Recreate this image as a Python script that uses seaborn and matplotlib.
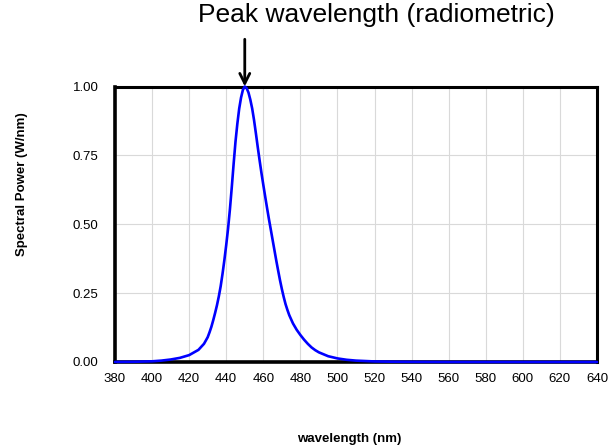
import matplotlib
matplotlib.use("Agg")
import matplotlib.pyplot as plt
import seaborn as sns
import pandas as pd

wavelength = [380, 390, 400, 405, 410, 415, 420, 425, 428, 430, 431, 432, 433, 434,
              435, 436, 437, 438, 439, 440, 441, 442, 443, 444, 445, 446, 447, 448,
              449, 450, 451, 452, 453, 454, 455, 456, 457, 458, 459, 460, 461, 462,
              463, 464, 465, 466, 467, 468, 469, 470, 471, 472, 473, 474, 476, 478,
              480, 482, 484, 486, 488, 490, 495, 500, 505, 510, 520, 530, 540, 560,
              580, 600, 620, 640]
power = [0.0002, 0.0008, 0.0025, 0.005, 0.009, 0.015, 0.025, 0.044, 0.066, 0.09,
         0.108, 0.128, 0.152, 0.178, 0.206, 0.238, 0.275, 0.32, 0.37, 0.425, 0.485,
         0.555, 0.635, 0.72, 0.80, 0.865, 0.92, 0.96, 0.988, 1.0, 0.994, 0.978,
         0.952, 0.92, 0.878, 0.83, 0.78, 0.732, 0.686, 0.643, 0.601, 0.56, 0.52,
         0.482, 0.444, 0.406, 0.368, 0.332, 0.297, 0.265, 0.236, 0.21, 0.189, 0.17,
         0.14, 0.117, 0.098, 0.081, 0.066, 0.053, 0.043, 0.035, 0.021, 0.013, 0.008,
         0.005, 0.002, 0.001, 0.0005, 0.0, 0.0, 0.0, 0.0, 0.0]
x_ticks = list(range(380, 641, 20))
y_ticks = [0.0, 0.25, 0.5, 0.75, 1.0]
y_tick_labels = ["0.00", "0.25", "0.50", "0.75", "1.00"]
peak = 450
title = "Peak wavelength (radiometric)"

sns.set_theme(style="whitegrid")
plt.rcParams['font.family'] = ['Liberation Sans', 'DejaVu Sans']

df = pd.DataFrame({"wavelength": wavelength, "power": power})

fig = plt.figure(figsize=(6.08, 4.47), dpi=100)
ax = fig.add_axes([115/608, 1-362/447, (597-115)/608, (362-86.5)/447])

sns.lineplot(data=df, x="wavelength", y="power", ax=ax, color="#0000ff",
             linewidth=1.9, zorder=5, clip_on=False)

ax.set_xlim(380, 640)
ax.set_ylim(0, 1.0)
ax.set_xticks(x_ticks)
ax.set_xticklabels([str(t) for t in x_ticks], fontsize=9.5)
ax.set_yticks(y_ticks)
ax.set_yticklabels(y_tick_labels, fontsize=9.5)
ax.set_xlabel("")
ax.set_ylabel("")
ax.grid(True, color="#d9d9d9", linewidth=0.8)
ax.set_facecolor("white")
for side, sp in ax.spines.items():
    sp.set_visible(True)
    sp.set_color("black")
    sp.set_linewidth(2.2 if side in ("top", "right") else 2.6)
ax.tick_params(axis="x", direction="inout", length=6, width=2, color="black",
               pad=5, labelcolor="black")
ax.tick_params(axis="y", direction="out", length=4, width=2, color="black",
               pad=8, labelcolor="black")

ax.annotate("", xy=(peak, 1.0), xytext=(0, 34), textcoords="offset points",
            annotation_clip=False,
            arrowprops=dict(arrowstyle="->", lw=2, color="black", mutation_scale=18,
                            shrinkA=0, shrinkB=0))

fig.text(376/608, 1-15/447, title, ha="center", va="center", fontsize=19, color="black")
fig.text(22/608, 1-184/447, "Spectral Power (W/nm)", rotation=90, ha="center",
         va="center", fontsize=9.5, fontweight="bold", color="black")
fig.text(349.5/608, 1-439/447, "wavelength (nm)", ha="center", va="center",
         fontsize=9.5, fontweight="bold", color="black")

fig.savefig("out.png", dpi=100, facecolor="white")
